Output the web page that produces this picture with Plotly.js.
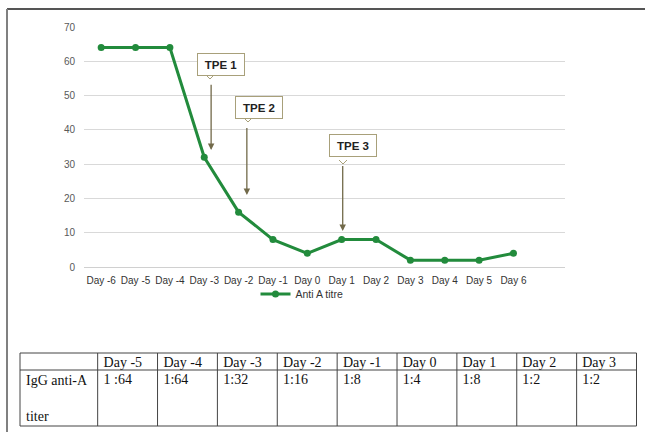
<!DOCTYPE html>
<html>
<head>
<meta charset="utf-8">
<script src="https://cdn.plot.ly/plotly-3.0.1.min.js"></script>
<style>html,body{margin:0;padding:0;background:#fff;}#chart{width:645px;height:432px;}</style>
</head>
<body>
<div id="chart"></div>
<script>
// ---- data ----
var days = ['Day -6','Day -5','Day -4','Day -3','Day -2','Day -1','Day 0','Day 1','Day 2','Day 3','Day 4','Day 5','Day 6'];
var antiATitre = [64,64,64,32,16,8,4,8,8,2,2,2,4];
var seriesName = 'Anti A titre';
var yTicks = [0,10,20,30,40,50,60,70];

var tableDays = ['Day -5','Day -4','Day -3','Day -2','Day -1','Day 0','Day 1','Day 2','Day 3'];
var tableTiters = ['1 :64','1:64','1:32','1:16','1:8','1:4','1:8','1:2','1:2'];
var tableRowLabel = 'IgG anti-A<br><br>titer';

var tpeLabels = ['TPE 1','TPE 2','TPE 3'];

// ---- layout helpers (pixel -> paper) ----
var W = 645, H = 432, mL = 10, mR = 0, mT = 20, mB = 4;
var pw = W - mL - mR, ph = H - mT - mB;
function px(x){ return (x - mL) / pw; }
function py(y){ return (H - mB - y) / ph; }

var green = 'rgb(34,139,60)';

var line = {
  type: 'scatter', mode: 'lines+markers',
  x: days, y: antiATitre, name: seriesName,
  line: {color: green, width: 3},
  marker: {color: green, size: 7},
  xaxis: 'x', yaxis: 'y'
};

// table geometry
var tL = 20, tR = 636.5, tTop = 353, tHead = 17, tRow = 56;
var colW = [77.7].concat(tableDays.map(function(){ return 59.9; }));
var headerVals = [''].concat(tableDays);
var cellVals = [[tableRowLabel]].concat(tableTiters.map(function(t){ return [t]; }));
var txtShiftX = 2, txtShiftY = 5;

var table = {
  type: 'table',
  domain: {x: [px(tL - txtShiftX), px(tR - txtShiftX)], y: [py(tTop - txtShiftY + tHead + tRow + 4), py(tTop - txtShiftY)]},
  columnwidth: colW,
  header: {
    values: headerVals, align: 'left', height: tHead,
    line: {color: 'rgba(0,0,0,0)', width: 0}, fill: {color: 'rgba(0,0,0,0)'},
    font: {family: 'Liberation Serif, serif', size: 14, color: '#111'}
  },
  cells: {
    values: cellVals, align: 'left', height: tRow,
    line: {color: 'rgba(0,0,0,0)', width: 0}, fill: {color: 'rgba(0,0,0,0)'},
    font: {family: 'Liberation Serif, serif', size: 14, color: '#111'}
  }
};

// table borders
var tableShapes = [];
var sumW = colW.reduce(function(a,b){return a+b;}, 0);
var xb = [tL], acc = 0;
colW.forEach(function(w){ acc += w; xb.push(tL + acc * (tR - tL) / sumW); });
var tBot = tTop + tHead + tRow;
xb.forEach(function(x){
  tableShapes.push({type:'line', xref:'paper', yref:'paper', x0:px(x), x1:px(x), y0:py(tTop), y1:py(tBot), line:{color:'#444', width:1}});
});
[tTop, tTop + tHead, tBot].forEach(function(y){
  tableShapes.push({type:'line', xref:'paper', yref:'paper', x0:px(tL), x1:px(tR), y0:py(y), y1:py(y), line:{color:'#444', width:1}});
});

var boxStyle = {
  showarrow: false, bgcolor: '#fff', bordercolor: '#a8a07a', borderwidth: 1,
  borderpad: 3, font: {family: 'Liberation Sans, Arial', size: 11.5, color: '#222'},
  xref: 'x', yref: 'y', width: 40, height: 15
};
function box(text, x, y){ var a = Object.assign({}, boxStyle); a.text = '<b>' + text + '</b>'; a.x = x; a.y = y; return a; }
function arrow(x, yTail, yTip){
  return {x: x, y: yTip, ax: x, ay: yTail, axref: 'x', ayref: 'y', xref: 'x', yref: 'y',
    text: '', showarrow: true, arrowhead: 2, arrowsize: 1, arrowwidth: 1.3,
    arrowcolor: '#726a4a', standoff: 0, startstandoff: 0};
}
function notch(x, y){
  return {type:'path', xref:'paper', yref:'paper',
    path: 'M ' + px(x-4) + ' ' + py(y) + ' L ' + px(x) + ' ' + py(y+4) + ' L ' + px(x+4) + ' ' + py(y),
    line:{color:'#a8a07a', width:1}, fillcolor:'#fff'};
}

var layout = {
  width: W, height: H,
  margin: {l: mL, r: mR, t: mT, b: mB},
  paper_bgcolor: '#fff', plot_bgcolor: '#fff',
  font: {family: 'Liberation Sans, Arial', size: 10, color: '#404040'},
  showlegend: true,
  legend: {orientation: 'h', x: px(302), y: py(294), xanchor: 'center', yanchor: 'middle',
    font: {size: 10.5, color: '#333'}, bgcolor: 'rgba(0,0,0,0)'},
  xaxis: {
    domain: [px(84), px(565)], range: [-0.5, 13.5], type: 'category',
    showgrid: false, zeroline: false, showline: false, ticks: '', ticklabelstandoff: 6,
    tickfont: {size: 10, color: '#333'}, fixedrange: true
  },
  yaxis: {
    domain: [py(267), py(27)], range: [0, 70], tickvals: yTicks,
    showgrid: true, gridcolor: '#d9d9d9', gridwidth: 1, zeroline: true, zerolinecolor: '#d0d0d0',
    showline: false, ticks: '', ticklabelstandoff: 8,
    tickfont: {size: 10, color: '#595959'}, fixedrange: true
  },
  shapes: [
    {type: 'line', xref: 'paper', yref: 'paper', x0: px(7), x1: px(646), y0: py(9), y1: py(9), line: {color: '#555', width: 2}},
    {type: 'line', xref: 'paper', yref: 'paper', x0: px(7), x1: px(7), y0: py(9), y1: py(433), line: {color: '#808080', width: 2}},
    notch(210, 75), notch(248, 118), notch(343, 160)
  ].concat(tableShapes),
  annotations: [
    box(tpeLabels[0], 3.49, 59.0),
    box(tpeLabels[1], 4.59, 46.6),
    box(tpeLabels[2], 7.34, 35.3),
    arrow(3.2, 53.6, 34.1),
    arrow(4.24, 41.0, 21.0),
    arrow(7.03, 29.9, 10.5)
  ]
};

Plotly.newPlot('chart', [line, table], layout, {staticPlot: true, displayModeBar: false});
</script>
</body>
</html>
